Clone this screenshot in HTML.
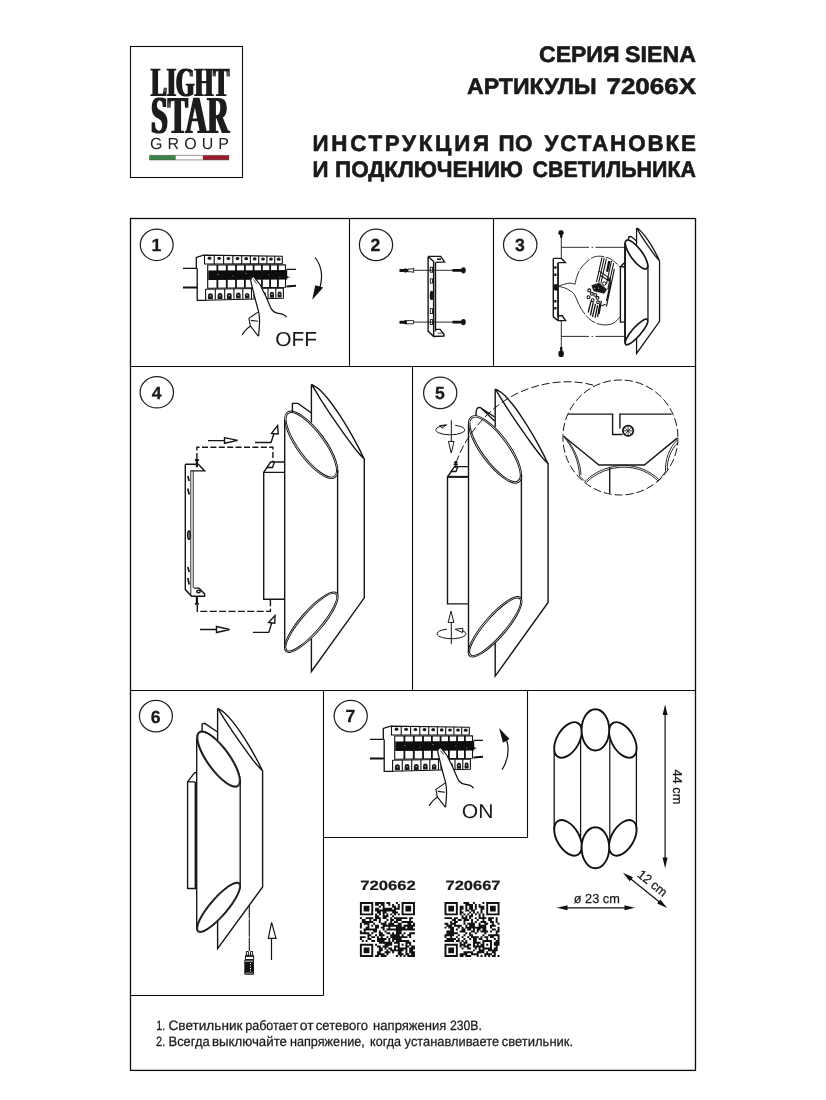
<!DOCTYPE html>
<html lang="ru">
<head>
<meta charset="utf-8">
<title>SIENA 72066X</title>
<style>
html,body{margin:0;padding:0;background:#fff;}
body{width:826px;height:1100px;overflow:hidden;font-family:"Liberation Sans",sans-serif;}
svg{display:block;position:absolute;left:0;top:0;will-change:transform;text-rendering:geometricPrecision;}
.b{font-family:"Liberation Sans",sans-serif;font-weight:bold;fill:#1a1a1a;}
.r{font-family:"Liberation Sans",sans-serif;fill:#1a1a1a;}
.ln{fill:none;stroke:#161616;stroke-width:1.4;}
.th{fill:none;stroke:#222;stroke-width:0.8;}
.tk{fill:none;stroke:#111;stroke-width:1.4;}
</style>
</head>
<body>
<svg width="826" height="1100" viewBox="0 0 826 1100">
<rect x="0" y="0" width="826" height="1100" fill="#fff"/>
<g id="frame" fill="none" stroke="#0c0c0c">
<rect x="130.5" y="218.5" width="565" height="851.9" stroke-width="1.3"/>
<path d="M130.5 366.5H695.5M130.5 690.5H695.5M349.5 218.5V366.5M493.5 218.5V366.5M412.5 366.5V690.5M323.5 690.5V995.5M130.5 995.5H323.5M527.5 690.5V837.5M323.5 837.5H527.5" stroke-width="1.1"/>
</g>
<g id="header" stroke="#1a1a1a" stroke-width="0.6" stroke-linejoin="round" class="b" font-size="22.4">
<text x="539.00" y="62.3" textLength="80.50" lengthAdjust="spacingAndGlyphs">СЕРИЯ</text>
<text x="625.00" y="62.3" textLength="71.00" lengthAdjust="spacingAndGlyphs">SIENA</text>
<text x="467.00" y="94.4" textLength="129.50" lengthAdjust="spacingAndGlyphs">АРТИКУЛЫ</text>
<text x="606.50" y="94.4" textLength="89.50" lengthAdjust="spacingAndGlyphs">72066X</text>
<text x="312.50" y="150.5" textLength="176.50" lengthAdjust="spacing">ИНСТРУКЦИЯ</text>
<text x="498.50" y="150.5" textLength="34.00" lengthAdjust="spacing">ПО</text>
<text x="544.50" y="150.5" textLength="151.50" lengthAdjust="spacing">УСТАНОВКЕ</text>
<text x="312.50" y="177.4" textLength="16.00" lengthAdjust="spacingAndGlyphs">И</text>
<text x="335.00" y="177.4" textLength="188.00" lengthAdjust="spacingAndGlyphs">ПОДКЛЮЧЕНИЮ</text>
<text x="532.50" y="177.4" textLength="163.50" lengthAdjust="spacingAndGlyphs">СВЕТИЛЬНИКА</text>
</g>
<defs>
<filter id="dilx" x="-5%" y="-5%" width="110%" height="110%"><feMorphology operator="dilate" radius="1 0.1"/></filter>
</defs>
<g id="logo">
<rect x="130.5" y="46.5" width="112" height="131" fill="none" stroke="#111" stroke-width="1.1"/>
<g filter="url(#dilx)">
<text x="151" y="95.8" font-family="'Liberation Serif',serif" font-weight="bold" font-size="41.5" fill="#1c1c1c" textLength="78" lengthAdjust="spacingAndGlyphs">LIGHT</text>
<text x="151" y="133.3" font-family="'Liberation Serif',serif" font-weight="bold" font-size="53.5" fill="#1c1c1c" textLength="78" lengthAdjust="spacingAndGlyphs">STAR</text>
</g>
<text x="150" y="148.7" font-family="'Liberation Sans',sans-serif" font-size="16" fill="#222" textLength="79" lengthAdjust="spacing">GROUP</text>
<rect x="149.2" y="155.4" width="26.5" height="4.5" fill="#3a8449"/>
<rect x="202.9" y="155.4" width="26.2" height="4.5" fill="#9e1a2b"/>
<path d="M149.2 155.4H229.1M149.2 159.9H229.1" stroke="#333" stroke-width="0.5" fill="none"/>
</g>
<g id="circles" fill="none" stroke="#222" stroke-width="1.25">
<ellipse cx="156.7" cy="244.8" rx="16.4" ry="15.7"/>
<ellipse cx="376" cy="244.9" rx="16.6" ry="15.7"/>
<ellipse cx="520.2" cy="244.8" rx="16.7" ry="15.7"/>
<ellipse cx="156.8" cy="392.3" rx="16.7" ry="15.7"/>
<ellipse cx="440.2" cy="392.9" rx="16.6" ry="15.8"/>
<ellipse cx="155.9" cy="716.1" rx="16.5" ry="15.8"/>
<ellipse cx="350.7" cy="716.1" rx="16.6" ry="15.8"/>
</g>
<g id="nums" class="b" font-size="17.6" text-anchor="middle" stroke="#1a1a1a" stroke-width="0.3">
<text x="156.3" y="251.2">1</text>
<text x="375.4" y="251.2">2</text>
<text x="519.8" y="251.2">3</text>
<text x="156.6" y="398.8">4</text>
<text x="440" y="399.3">5</text>
<text x="155.6" y="722.5">6</text>
<text x="350.4" y="722.3">7</text>
</g>
<defs>
<g id="breaker">
<path d="M204.5 255.1L203.6 255.1L196.3 257.4V268.4M197.2 268.4V300.3H206" fill="none" stroke="#111" stroke-width="1.3"/>
<path d="M182.9 268.4H197.2M286.5 269.3H296" fill="none" stroke="#111" stroke-width="1.2"/>
<path d="M182.9 287.6H197.2M286.5 286.6L296 285.8" fill="none" stroke="#111" stroke-width="2"/>
<path d="M204.5 255.1L282.3 256.3L282.3 263.8L204.5 264.0Z" fill="#fff" stroke="#111" stroke-width="1.1" stroke-linejoin="round"/>
<path d="M214.2 255.2V264.0M223.6 255.4V264.0M232.8 255.5V263.9M241.7 255.7V263.9M250.4 255.8V263.9M258.7 255.9V263.9M266.9 256.1V263.8M274.7 256.2V263.8" fill="none" stroke="#111" stroke-width="1.1" stroke-linejoin="round"/>
<ellipse cx="209.5" cy="258.2" rx="1.9" ry="1.6" fill="#1c1c1c"/>
<ellipse cx="219.1" cy="258.3" rx="1.9" ry="1.6" fill="#1c1c1c"/>
<ellipse cx="228.4" cy="258.5" rx="1.9" ry="1.6" fill="#1c1c1c"/>
<ellipse cx="237.5" cy="258.6" rx="1.9" ry="1.6" fill="#1c1c1c"/>
<ellipse cx="246.2" cy="258.7" rx="1.9" ry="1.6" fill="#1c1c1c"/>
<ellipse cx="254.7" cy="258.9" rx="1.9" ry="1.6" fill="#1c1c1c"/>
<ellipse cx="263.0" cy="259.0" rx="1.9" ry="1.6" fill="#1c1c1c"/>
<ellipse cx="271.0" cy="259.1" rx="1.9" ry="1.6" fill="#1c1c1c"/>
<ellipse cx="278.7" cy="259.2" rx="1.9" ry="1.6" fill="#1c1c1c"/>
<path d="M207.7 265.0L285.5 264.8L285.5 287.3L207.7 288.3Z" fill="#fff" stroke="#111" stroke-width="1.1" stroke-linejoin="round"/>
<path d="M217.4 265.0V288.1M226.8 264.9V288.0M236.0 264.9V287.9M244.9 264.9V287.8M253.6 264.9V287.7M261.9 264.9V287.6M270.1 264.8V287.5M277.9 264.8V287.4" fill="none" stroke="#111" stroke-width="1.8"/>
<path d="M208.3 270.4L287.2 270.0L287.2 279.5L208.3 280.0Z" fill="#0d0d0d"/>
<path d="M286.8 276L290 277.2L286.8 278Z" fill="#111"/>
<path d="M217 274.5h2M232 276h1.5M245 273.5h2M268 275h1.5M279 277h1.5" stroke="#555" stroke-width="1" fill="none"/>
<path d="M205.6 289.3L283.4 288.0L283.4 298.3L205.6 300.3Z" fill="#fff" stroke="#111" stroke-width="1.1" stroke-linejoin="round"/>
<path d="M215.3 289.1V300.0M224.7 289.0V299.8M233.9 288.8V299.6M242.8 288.7V299.3M251.5 288.5V299.1M259.8 288.4V298.9M268.0 288.2V298.7M275.8 288.1V298.5" fill="none" stroke="#111" stroke-width="1.1" stroke-linejoin="round"/>
<path d="M207.9 299.3V295.7A2.5 2.4 0 0 1 212.9 295.7V299.3Z" fill="#1c1c1c"/>
<rect x="209.8" y="295.4" width="1.4" height="1.1" fill="#bbb"/>
<path d="M217.6 299.1V295.5A2.4 2.4 0 0 1 222.5 295.5V299.1Z" fill="#1c1c1c"/>
<rect x="219.3" y="295.2" width="1.4" height="1.1" fill="#bbb"/>
<path d="M226.9 298.9V295.3A2.4 2.4 0 0 1 231.7 295.3V298.9Z" fill="#1c1c1c"/>
<rect x="228.6" y="295.0" width="1.4" height="1.1" fill="#bbb"/>
<path d="M236.0 298.6V295.0A2.3 2.4 0 0 1 240.7 295.0V298.6Z" fill="#1c1c1c"/>
<rect x="237.7" y="294.7" width="1.4" height="1.1" fill="#bbb"/>
<path d="M244.9 298.4V294.8A2.3 2.4 0 0 1 249.4 294.8V298.4Z" fill="#1c1c1c"/>
<rect x="246.4" y="294.5" width="1.4" height="1.1" fill="#bbb"/>
<path d="M253.4 298.2V294.6A2.2 2.4 0 0 1 257.8 294.6V298.2Z" fill="#1c1c1c"/>
<rect x="254.9" y="294.3" width="1.4" height="1.1" fill="#bbb"/>
<path d="M261.8 298.0V294.4A2.1 2.4 0 0 1 266.0 294.4V298.0Z" fill="#1c1c1c"/>
<rect x="263.2" y="294.1" width="1.4" height="1.1" fill="#bbb"/>
<path d="M269.8 297.8V294.2A2.1 2.4 0 0 1 274.0 294.2V297.8Z" fill="#1c1c1c"/>
<rect x="271.2" y="293.9" width="1.4" height="1.1" fill="#bbb"/>
<path d="M277.6 297.6V294.0A2.0 2.4 0 0 1 281.6 294.0V297.6Z" fill="#1c1c1c"/>
<rect x="278.9" y="293.7" width="1.4" height="1.1" fill="#bbb"/>
<path d="M251.6 277.8C250.6 279 250.6 280 250.9 281.5L252.8 289.4L255.7 301L258.6 311.6C259.6 316 259.7 320 259.5 324L258.6 336.3L264 336L272 310.5L270.7 307.8L265.8 296.2L260 284.5L254.3 277.3C253.3 276.6 252.3 277 251.6 277.8Z" fill="#fff" stroke="none"/>
<path d="M258.6 336.3L259.5 324C259.7 320 259.6 316 258.6 311.6L255.7 301L252.8 289.4L250.9 281.5C250.6 280 250.6 279 251.6 277.8C252.3 277 253.3 276.6 254.3 277.3L260 284.5L265.8 296.2L270.7 307.8C272 310.5 273.5 312 275.5 312.6C278 313.6 280.5 313.5 282.3 314.1C284.3 314.8 285.8 315.8 286.7 317.2" fill="none" stroke="#111" stroke-width="1.2" stroke-linejoin="round"/>
<path d="M258.1 312.1L248.9 318.4L250.3 325.9L258.3 336.1M250.3 326.2C247 328 244.5 331 242.1 334.9M250.8 320.4L258.1 321.3" fill="none" stroke="#111" stroke-width="1.1" stroke-linejoin="round"/>
<path d="M253.5 279.5L256.5 283.5" stroke="#111" stroke-width="0.8" fill="none"/>
</g>
</defs>
<g id="p1">
<use href="#breaker"/>
<path d="M315 257.5C321 265 323 276 320 287" fill="none" stroke="#111" stroke-width="1.2"/>
<path d="M315.3 285.3L323.2 287.6L312.2 299.8Z" fill="#111"/>
<text class="r" x="275.3" y="345.5" font-size="20.2" textLength="41.8" lengthAdjust="spacingAndGlyphs">OFF</text>
</g>
<g id="p7">
<use href="#breaker" transform="translate(187 471)"/>
<path d="M502 769.8C507.5 761 510 751 506.6 740" fill="none" stroke="#111" stroke-width="1.2"/>
<path d="M499.1 728.1L509.5 739L503 742.8Z" fill="#111"/>
<text class="r" x="461.8" y="817.7" font-size="20" textLength="31.6" lengthAdjust="spacingAndGlyphs">ON</text>
</g>
<g id="p2" class="ln" stroke-width="1">
<path d="M428.1 256.4V331.1L433.6 336.5L443.9 336V334.3L440.1 329.4H435.5M428.1 256.4H440.7L444.5 261.9L435.5 262.4M433.6 261V336.5M435.5 262.4V331.6M428.1 256.4L433.6 261.5"/>
<path d="M437 259.2H441" stroke-width="1.6"/>
<path d="M437.5 333.2H442.5" stroke-width="0.8"/>
<g stroke-width="0.9">
<rect x="430.3" y="267.3" width="2.3" height="4.9"/><rect x="430.3" y="278.8" width="2.2" height="4.3"/><rect x="430.3" y="308.7" width="2.2" height="4.9"/><rect x="430.3" y="319.6" width="2.3" height="4.9"/>
</g>
<ellipse cx="431.6" cy="295.4" rx="1.2" ry="4" fill="#111"/>
<path d="M413.4 270.3H452.1M413.4 322.1H452.1" stroke-width="0.9"/>
<!-- plugs -->
<path d="M399.5 270.4H408M399.5 322.2H406" stroke-width="3" stroke="#111"/>
<path d="M405.5 268.5V272.5M405.5 320.2V324.2" stroke-width="2.4" stroke="#111"/>
<path d="M408 269H412L413.6 268.2V272.6L412 271.8H408ZM406.5 320.6H413.6V323.8H406.5Z" stroke-width="0.9"/>
<!-- screws -->
<path d="M452.3 270.3H462M452.3 322.1H462" stroke-width="2.8" stroke="#111"/>
<ellipse cx="463.4" cy="270.3" rx="1.7" ry="2.4" fill="#111"/><ellipse cx="463.4" cy="322.1" rx="1.7" ry="2.4" fill="#111"/>
</g>
<g id="p3" class="ln" stroke-width="1.1">
<g transform="translate(501.2 60.4) scale(0.4347 0.4364)" stroke-width="3"><use href="#tubes"/></g>
<ellipse cx="636.5" cy="254.5" rx="17.4" ry="5.85" transform="rotate(53.7 636.5 254.5)" stroke-width="1.5"/>
<ellipse cx="636.5" cy="331.9" rx="16.5" ry="4.5" transform="rotate(-49 636.5 331.9)" stroke-width="1.5"/>
<path d="M628 240L629.2 236.5L631.5 236.8L636.6 241"/>
<path d="M625.1 243V342" stroke-width="1.7"/>
<!-- back plate -->
<path d="M625 266.8H620.4V322.1H625M620.4 266.8L624.4 262.8"/>
<!-- guide lines -->
<path d="M561.3 233V258.4M561.3 320.5V354M561.3 247.3H589M591.5 247.3H593M595.5 247.3H625M561.3 336.4H589M591.5 336.4H593M595.5 336.4H625" stroke-width="0.9"/>
<g fill="#111" stroke="none"><rect x="558.4" y="230.3" width="5.2" height="4.8" rx="1.9"/><rect x="560.1" y="234.5" width="2.3" height="3.2"/><rect x="558.4" y="350.8" width="5.4" height="6.2" rx="2"/><rect x="560.1" y="347" width="2.3" height="4.2"/></g>
<!-- bracket -->
<path d="M553.3 258.4V316.8L558 320.6H565.6L562.2 315.8H558.4M553.3 258.4H561.5L565.4 262.6H558.4M558.2 262.6V320.6" />
<path d="M557.6 263V317" stroke-width="0.9"/>
<path d="M554.2 267.5H556.5M554.2 274.8H556.5M554.2 301.3H556.5M554.2 308.3H556.5" stroke-width="2.4"/>
<ellipse cx="555.8" cy="287.3" rx="1.6" ry="2.7" fill="#111"/>
<!-- callout bubble -->
<path d="M559.0 286.0C560.0 285.7 563.2 284.5 565.0 284.0C566.8 283.5 568.3 283.1 570.0 283.1C571.7 283.1 574.2 284.0 575.1 284.2" stroke-width="0.9"/>
<path d="M575.1 284.2C575.3 283.4 575.5 281.4 576.2 279.1C576.9 276.8 577.9 273.2 579.5 270.4C581.1 267.6 583.7 264.6 586.0 262.4C588.3 260.2 591.1 258.3 593.3 257.3C595.5 256.3 597.2 256.3 599.1 256.2C601.0 256.1 603.0 256.4 604.9 256.9C606.8 257.4 608.6 257.9 610.7 259.1C612.8 260.3 615.7 262.8 617.3 264.2C618.9 265.6 619.7 266.9 620.2 267.5" stroke-width="0.9" stroke-dasharray="14 1.5"/>
<path d="M559.0 286.4C560.0 286.7 563.2 287.3 565.0 288.0C566.8 288.7 568.4 289.6 570.0 290.7C571.6 291.8 573.2 292.7 574.4 294.4C575.6 296.1 576.2 298.6 577.3 300.9C578.4 303.2 579.4 305.8 580.9 308.2C582.4 310.6 584.2 313.4 586.0 315.5C587.8 317.6 589.6 319.4 591.8 320.9C594.0 322.3 596.7 323.5 599.1 324.2C601.5 324.9 604.0 325.1 606.4 324.9C608.8 324.7 611.3 324.4 613.6 323.1C615.9 321.8 619.1 317.9 620.2 316.9" stroke-width="0.9" stroke-dasharray="40 1.5 12 1.5"/>
<!-- terminal block -->
<g stroke-width="1.1" stroke="#111">
<path d="M602 257.3L596.5 282M604.2 258L598.7 282.7M606.4 258.7L600.9 283.5M611.5 260.9L606.4 284.2M613.6 263.1L607.8 289.3M614.4 268.9L606.4 306.7M610.7 282L606.4 300.9"/>
<path d="M599.1 271.1L610.7 279.1M600.5 275.5L610 281.5M601.3 306L605.6 304.2"/>
<path d="M591.1 300.9L588.2 312.5M593.3 302.4L590.4 315.5M595.5 303.8L592.5 316.9M597.6 305.3L595.1 317.6M599.8 303.8L597.6 316.9M601.3 300.9L599.1 314" stroke-width="1.3"/>
</g>
<path d="M609.3 260.9L607.1 271.8" stroke-width="2.3" stroke="#111"/>
<path d="M608.5 278.5L610.5 281.5" stroke-width="2" stroke="#111"/>
<path d="M591.8 285.6L599.1 283.2L606.6 289.3L604.2 293.2L594 290.9Z" fill="#1a1a1a" stroke-width="0.8"/>
<circle cx="604.2" cy="283.6" r="1.7" fill="#fff" stroke-width="1"/>
<g stroke-width="1.1" fill="#fff" stroke="#111">
<circle cx="589.3" cy="290.4" r="1.5"/><circle cx="588.5" cy="297.3" r="1.5"/><circle cx="591.9" cy="293.8" r="1.4"/><circle cx="595.3" cy="294.9" r="1.4"/><circle cx="597.5" cy="297.8" r="1.4"/><circle cx="592.6" cy="300.2" r="1.4"/><circle cx="598" cy="302.3" r="1.4"/><circle cx="594.3" cy="288.3" r="1.1"/><circle cx="598.5" cy="288" r="1.1"/>
</g>
</g>
<defs>
<g id="tubeB">
<path d="M311.4 422.5V384.4M311.4 638.5V671.5L364.3 597.8V458.3"/>
<path d="M311.6 384.4C312.9 385.2 316.5 386.9 319.4 389.5C322.3 392.1 325.9 396.2 329.1 400.2C332.3 404.2 335.5 408.9 338.7 413.7C341.9 418.5 345.2 423.7 348.4 429.2C351.6 434.7 355.5 441.8 358.1 446.7C360.7 451.6 363.0 456.8 364.0 458.8L364.0 458.8C363.0 457.8 360.7 455.6 358.1 452.5C355.5 449.4 351.6 444.3 348.4 439.9C345.2 435.5 341.9 430.9 338.7 426.3C335.5 421.7 332.3 417.1 329.1 412.3C325.9 407.5 322.3 402.0 319.4 397.3C316.5 392.6 312.9 386.5 311.6 384.4Z"/>
</g>
<g id="tubeF">
<path d="M284.7 420V648M337.6 470V594.5"/>
<g id="ells" stroke-width="0.95">
<ellipse cx="311.3" cy="444.8" rx="40.5" ry="14.2" transform="rotate(53.7 311.3 444.8)"/>
<ellipse cx="311.3" cy="444.8" rx="38.9" ry="12.6" transform="rotate(53.7 311.3 444.8)"/>
<ellipse cx="311.3" cy="622.2" rx="38.8" ry="11.2" transform="rotate(-49 311.3 622.2)"/>
<ellipse cx="311.3" cy="622.2" rx="37.2" ry="9.6" transform="rotate(-49 311.3 622.2)"/>
</g>
</g>
<g id="tubes"><use href="#tubeB"/><use href="#tubeF"/></g>
<g id="lamp">
<use href="#tubes"/>
<path d="M284.7 472.4H263.7V599.3H284.7M263.7 472.4L270.6 462H284.7"/>
</g>
</defs>
<g id="p4" class="ln">
<use href="#lamp"/>
<!-- mount tab -->
<path d="M292.4 412V403.4H298L311.4 413"/>
<path d="M267 467.5H272.5L274.5 462"/>
<!-- dashed guides -->
<path d="M196.9 459V447.3H272.9V462" stroke-dasharray="6 2.4"/>
<path d="M197.3 605V611.4H270.4V599.5" stroke-dasharray="7 2.4"/>
<!-- arrows -->
<path d="M208 440.6H224.5M224.5 437.6L237.6 440.4L224.5 443.3Z"/>
<path d="M255 442.5H271L273.9 433.8M271.5 433.4L277.6 425.6L278.2 434Z"/>
<path d="M200 629.5H216.5M216.5 626.5L229.6 629.5L216.5 632.5Z"/>
<path d="M252.8 632.4H268.8L271.7 623M268.6 622.5L275 615.5L274.8 623.2Z"/>
<!-- bracket -->
<path d="M185.3 464.3V589.6L191.6 596.2H204.6V593.9L199 588.1H194M185.3 464.3H198.3L204.6 470.9H190.5"/>
<path d="M190.8 470.9V596M193.2 470.9V588.1" stroke-width="0.9"/>
<path d="M196.9 459.5V467.2M196.9 596.5V604" stroke-width="2.2"/>
<path d="M194.9 460H198.9M194.9 603.8H198.9" stroke-width="1.8"/>
<ellipse cx="198.5" cy="591.5" rx="1.8" ry="1.2"/>
<g stroke-width="1.7">
<path d="M187.8 476L189.2 481M187.8 488.5L189.2 494.5M187.8 567L189.2 572M187.8 578L189.2 584.5"/>
<ellipse cx="189" cy="535.2" rx="1.2" ry="4"/>
</g>
</g>
<g id="p5" class="ln">
<use href="#lamp" transform="translate(183.8 4.6)"/>
<!-- curved tab -->
<path d="M476 416C476 409 477 407 480 407.5L494.6 417M481 408L494.6 421"/>
<!-- screw -->
<path d="M454 462.5H457.5M453.6 464.5H457.8M455.7 461V468" stroke-width="1.7"/>
<path d="M450.5 471.5H456L458 466"/>
<!-- rotation icons -->
<path d="M455.2 425.3A14.4 4.9 0 1 1 446.2 425.2M446.5 424.8L439.6 425.7L442 428.2Z" stroke-width="1"/>
<path d="M451.3 420.3V441.4M448.4 441.4H454.1L451.2 453Z" stroke-width="1"/>
<path d="M446.8 629.2A14.4 4.9 0 1 0 462.3 630.6M455.2 629.3L462.8 628.2L462.5 632.5Z" stroke-width="1"/>
<path d="M451.3 644.2V622.4M448.1 622.4H453.9L451 611.1Z" stroke-width="1"/>
<path d="M447.3 476.7H468.6" stroke-width="1.7"/>
<!-- dashed leader -->
<path d="M456 463C465 436 488 408 516 394S575 379 596 386" stroke-dasharray="8 3" stroke-width="1"/>
<!-- detail circle -->
<circle cx="620.4" cy="437.5" r="57.5" stroke-dasharray="8 3" stroke-width="1"/>
<path d="M568.2 414.1H612.6V434.5H622.5M619.9 428.5V414.1H671.7"/>
<circle cx="628.1" cy="430.8" r="5.2" stroke-width="1.8"/>
<path d="M628.1 426.5V435M624 430.8H632.3M625.3 428L631 433.7M631 428L625.3 433.7" stroke-width="0.8"/>
<path d="M563.6 436.3L599 465H644.4L677.1 438.1"/>
<path d="M609.7 467V493.5"/>
<g stroke-width="0.9">
<path d="M585 481.5C596 470 612 465.5 624 465.5C638 465.5 650 471 659.5 480"/>
<path d="M586.3 482.5C597 471.7 612 467.2 624 467.2C638 467.2 649.5 472.5 658.3 481.2"/>
<path d="M563.5 436.5C573 447 579 462 579.5 476L585 481.5"/>
<path d="M565 437C574.5 448 580.5 462 581 475"/>
<path d="M677.3 440C669 448 665 460 665.5 471.5L659.5 480"/>
<path d="M678 442.5C670.5 450 667 460 667.3 470"/>
</g>
</g>
<g id="p6" class="ln">
<g transform="translate(-47.3 386.8) scale(0.8507 0.8366)" stroke-width="1.65"><use href="#tubeB"/></g>
<g transform="translate(-37.4 387.5) scale(0.8223 0.8355)" stroke-width="1.65"><use href="#tubeF"/></g>
<ellipse cx="218.6" cy="759.1" rx="33.2" ry="11.1" transform="rotate(53.9 218.6 759.1)" stroke-width="1.2"/>
<ellipse cx="218.6" cy="907.3" rx="31.7" ry="8.6" transform="rotate(-49.3 218.6 907.3)" stroke-width="1.2"/>
<path d="M202.1 731V724L204.7 723.3L217.5 732"/>
<!-- slab -->
<path d="M195.3 781.9H187.6V888.5H196.7M187.6 781.9L194.6 772.7H196.7M195.3 781.9V888.5"/>
<!-- bulb -->
<path d="M249.3 905V951" stroke-dasharray="13.5 0.8 17.5 0.8 20" stroke-width="1.1"/>
<path d="M246.4 955.3V951.5H248.4V955.3M250.5 955.3V951.5H252.6V955.3M245.5 955.3H253.6V959.6H245.5Z" stroke-width="1"/>
<path d="M245.5 956.3H253.6" stroke-width="1.2"/>
<rect x="244.3" y="959.4" width="9.7" height="15.3" rx="1" fill="#111" stroke="none"/>
<path d="M250.5 963V973" stroke="#fff" stroke-width="1" stroke-dasharray="1.1 1.4"/>
<path d="M245 961.2H253.3" stroke="#fff" stroke-width="0.8"/>
<path d="M245.3 973.2H253" stroke="#fff" stroke-width="0.6"/>
<!-- arrow -->
<path d="M271.5 959.9V938.3M268.3 938.3H276L271.6 922.4Z" stroke-width="1.2"/>
</g>
<g id="dims">
<g fill="none" stroke="#111" stroke-width="1.9">
<path d="M554.2 750.5V829M636.4 750.5V829" stroke-width="1.3"/>
<path d="M580.6 740V838M609.8 740V838" stroke-width="1.2"/>
<ellipse cx="568" cy="740" rx="19.6" ry="11.1" transform="rotate(-59.5 568 740)"/>
<ellipse cx="622.8" cy="740" rx="19.6" ry="11.1" transform="rotate(59.5 622.8 740)"/>
<ellipse cx="568" cy="837.9" rx="19.6" ry="11.1" transform="rotate(59.5 568 837.9)"/>
<ellipse cx="622.8" cy="837.9" rx="19.6" ry="11.1" transform="rotate(-59.5 622.8 837.9)"/>
<ellipse cx="595.4" cy="729.9" rx="13.8" ry="20.6" fill="#fff"/>
<ellipse cx="595.4" cy="847.7" rx="13.8" ry="20.5" fill="#fff"/>
</g>
<g stroke="#111" stroke-width="1.2" fill="#111">
<path d="M665.1 712V860"/>
<path d="M665.1 704.4L667.6 715H662.6ZM665.1 868.2L667.6 857.5H662.6Z" stroke="none"/>
<path d="M565 907.8H627"/>
<path d="M556.9 907.8L567.5 905.3V910.3ZM635 907.8L624.5 905.3V910.3Z" stroke="none"/>
<path d="M629 877.5L661 903.3"/>
<path d="M623 872.7L633 877.2L629.7 881.2ZM667.1 908.1L657.2 903.6L660.4 899.6Z" stroke="none"/>
</g>
<g class="r" font-size="13" text-anchor="middle" stroke="#1a1a1a" stroke-width="0.25">
<text transform="translate(672.6 786.9) rotate(90)" textLength="35" lengthAdjust="spacingAndGlyphs">44 cm</text>
<text x="596.8" y="902.8" textLength="46" lengthAdjust="spacingAndGlyphs">ø 23 cm</text>
<text transform="translate(645 890.4) rotate(38.8)" x="1.3" y="-5.9" textLength="34" lengthAdjust="spacingAndGlyphs">12 cm</text>
</g>
</g>
<g id="qr">
<g class="b" font-size="13.4" stroke="#1a1a1a" stroke-width="0.2">
<text x="360.2" y="889.6" textLength="55.6" lengthAdjust="spacingAndGlyphs">720662</text>
<text x="445.5" y="889.6" textLength="55" lengthAdjust="spacingAndGlyphs">720667</text>
</g>
<path d="M359.90 902.00h13.33v1.95h-13.33zM375.07 902.00h9.53v1.95h-9.53zM386.45 902.00h3.84v1.95h-3.84zM395.93 902.00h1.95v1.95h-1.95zM401.62 902.00h13.33v1.95h-13.33zM359.90 903.90h1.95v1.95h-1.95zM371.28 903.90h1.95v1.95h-1.95zM375.07 903.90h3.84v1.95h-3.84zM380.76 903.90h3.84v1.95h-3.84zM388.35 903.90h1.95v1.95h-1.95zM392.14 903.90h1.95v1.95h-1.95zM397.83 903.90h1.95v1.95h-1.95zM401.62 903.90h1.95v1.95h-1.95zM413.00 903.90h1.95v1.95h-1.95zM359.90 905.79h1.95v1.95h-1.95zM363.69 905.79h5.74v1.95h-5.74zM371.28 905.79h1.95v1.95h-1.95zM378.87 905.79h1.95v1.95h-1.95zM382.66 905.79h1.95v1.95h-1.95zM392.14 905.79h3.84v1.95h-3.84zM397.83 905.79h1.95v1.95h-1.95zM401.62 905.79h1.95v1.95h-1.95zM405.42 905.79h5.74v1.95h-5.74zM413.00 905.79h1.95v1.95h-1.95zM359.90 907.69h1.95v1.95h-1.95zM363.69 907.69h5.74v1.95h-5.74zM371.28 907.69h1.95v1.95h-1.95zM375.07 907.69h3.84v1.95h-3.84zM382.66 907.69h9.53v1.95h-9.53zM394.04 907.69h5.74v1.95h-5.74zM401.62 907.69h1.95v1.95h-1.95zM405.42 907.69h5.74v1.95h-5.74zM413.00 907.69h1.95v1.95h-1.95zM359.90 909.59h1.95v1.95h-1.95zM363.69 909.59h5.74v1.95h-5.74zM371.28 909.59h1.95v1.95h-1.95zM375.07 909.59h20.91v1.95h-20.91zM401.62 909.59h1.95v1.95h-1.95zM405.42 909.59h5.74v1.95h-5.74zM413.00 909.59h1.95v1.95h-1.95zM359.90 911.48h1.95v1.95h-1.95zM371.28 911.48h1.95v1.95h-1.95zM376.97 911.48h3.84v1.95h-3.84zM382.66 911.48h3.84v1.95h-3.84zM392.14 911.48h5.74v1.95h-5.74zM401.62 911.48h1.95v1.95h-1.95zM413.00 911.48h1.95v1.95h-1.95zM359.90 913.38h13.33v1.95h-13.33zM375.07 913.38h1.95v1.95h-1.95zM378.87 913.38h1.95v1.95h-1.95zM382.66 913.38h1.95v1.95h-1.95zM386.45 913.38h1.95v1.95h-1.95zM390.24 913.38h1.95v1.95h-1.95zM394.04 913.38h1.95v1.95h-1.95zM397.83 913.38h1.95v1.95h-1.95zM401.62 913.38h13.33v1.95h-13.33zM375.07 915.28h3.84v1.95h-3.84zM382.66 915.28h5.74v1.95h-5.74zM392.14 915.28h1.95v1.95h-1.95zM359.90 917.17h1.95v1.95h-1.95zM365.59 917.17h7.64v1.95h-7.64zM375.07 917.17h5.74v1.95h-5.74zM382.66 917.17h3.84v1.95h-3.84zM390.24 917.17h1.95v1.95h-1.95zM394.04 917.17h13.33v1.95h-13.33zM409.21 917.17h3.84v1.95h-3.84zM361.80 919.07h3.84v1.95h-3.84zM369.38 919.07h1.95v1.95h-1.95zM373.18 919.07h3.84v1.95h-3.84zM378.87 919.07h1.95v1.95h-1.95zM386.45 919.07h1.95v1.95h-1.95zM390.24 919.07h3.84v1.95h-3.84zM395.93 919.07h5.74v1.95h-5.74zM409.21 919.07h1.95v1.95h-1.95zM361.80 920.97h11.43v1.95h-11.43zM378.87 920.97h1.95v1.95h-1.95zM384.56 920.97h1.95v1.95h-1.95zM390.24 920.97h1.95v1.95h-1.95zM394.04 920.97h3.84v1.95h-3.84zM401.62 920.97h11.43v1.95h-11.43zM359.90 922.86h1.95v1.95h-1.95zM363.69 922.86h5.74v1.95h-5.74zM373.18 922.86h1.95v1.95h-1.95zM380.76 922.86h5.74v1.95h-5.74zM388.35 922.86h5.74v1.95h-5.74zM397.83 922.86h3.84v1.95h-3.84zM407.31 922.86h3.84v1.95h-3.84zM413.00 922.86h1.95v1.95h-1.95zM359.90 924.76h1.95v1.95h-1.95zM367.49 924.76h1.95v1.95h-1.95zM371.28 924.76h1.95v1.95h-1.95zM375.07 924.76h3.84v1.95h-3.84zM382.66 924.76h19.02v1.95h-19.02zM403.52 924.76h11.43v1.95h-11.43zM359.90 926.66h1.95v1.95h-1.95zM365.59 926.66h3.84v1.95h-3.84zM375.07 926.66h3.84v1.95h-3.84zM380.76 926.66h3.84v1.95h-3.84zM388.35 926.66h1.95v1.95h-1.95zM395.93 926.66h9.53v1.95h-9.53zM407.31 926.66h5.74v1.95h-5.74zM363.69 928.55h13.33v1.95h-13.33zM382.66 928.55h1.95v1.95h-1.95zM386.45 928.55h28.50v1.95h-28.50zM359.90 930.45h1.95v1.95h-1.95zM363.69 930.45h1.95v1.95h-1.95zM373.18 930.45h3.84v1.95h-3.84zM378.87 930.45h1.95v1.95h-1.95zM384.56 930.45h1.95v1.95h-1.95zM395.93 930.45h5.74v1.95h-5.74zM359.90 932.34h9.53v1.95h-9.53zM371.28 932.34h1.95v1.95h-1.95zM378.87 932.34h3.84v1.95h-3.84zM386.45 932.34h3.84v1.95h-3.84zM392.14 932.34h1.95v1.95h-1.95zM395.93 932.34h5.74v1.95h-5.74zM403.52 932.34h1.95v1.95h-1.95zM409.21 932.34h5.74v1.95h-5.74zM367.49 934.24h3.84v1.95h-3.84zM375.07 934.24h1.95v1.95h-1.95zM378.87 934.24h5.74v1.95h-5.74zM390.24 934.24h9.53v1.95h-9.53zM401.62 934.24h1.95v1.95h-1.95zM407.31 934.24h3.84v1.95h-3.84zM359.90 936.14h5.74v1.95h-5.74zM367.49 936.14h1.95v1.95h-1.95zM371.28 936.14h3.84v1.95h-3.84zM376.97 936.14h1.95v1.95h-1.95zM380.76 936.14h1.95v1.95h-1.95zM386.45 936.14h1.95v1.95h-1.95zM390.24 936.14h17.12v1.95h-17.12zM409.21 936.14h1.95v1.95h-1.95zM359.90 938.03h1.95v1.95h-1.95zM367.49 938.03h3.84v1.95h-3.84zM376.97 938.03h9.53v1.95h-9.53zM388.35 938.03h1.95v1.95h-1.95zM392.14 938.03h9.53v1.95h-9.53zM361.80 939.93h1.95v1.95h-1.95zM365.59 939.93h1.95v1.95h-1.95zM371.28 939.93h3.84v1.95h-3.84zM376.97 939.93h7.64v1.95h-7.64zM388.35 939.93h1.95v1.95h-1.95zM392.14 939.93h1.95v1.95h-1.95zM395.93 939.93h13.33v1.95h-13.33zM413.00 939.93h1.95v1.95h-1.95zM378.87 941.83h13.33v1.95h-13.33zM394.04 941.83h5.74v1.95h-5.74zM405.42 941.83h5.74v1.95h-5.74zM359.90 943.72h13.33v1.95h-13.33zM375.07 943.72h1.95v1.95h-1.95zM384.56 943.72h7.64v1.95h-7.64zM397.83 943.72h1.95v1.95h-1.95zM401.62 943.72h1.95v1.95h-1.95zM405.42 943.72h1.95v1.95h-1.95zM409.21 943.72h1.95v1.95h-1.95zM359.90 945.62h1.95v1.95h-1.95zM371.28 945.62h1.95v1.95h-1.95zM376.97 945.62h3.84v1.95h-3.84zM382.66 945.62h5.74v1.95h-5.74zM394.04 945.62h5.74v1.95h-5.74zM405.42 945.62h3.84v1.95h-3.84zM411.11 945.62h3.84v1.95h-3.84zM359.90 947.52h1.95v1.95h-1.95zM363.69 947.52h5.74v1.95h-5.74zM371.28 947.52h1.95v1.95h-1.95zM378.87 947.52h3.84v1.95h-3.84zM384.56 947.52h1.95v1.95h-1.95zM388.35 947.52h3.84v1.95h-3.84zM394.04 947.52h1.95v1.95h-1.95zM397.83 947.52h9.53v1.95h-9.53zM409.21 947.52h5.74v1.95h-5.74zM359.90 949.41h1.95v1.95h-1.95zM363.69 949.41h5.74v1.95h-5.74zM371.28 949.41h1.95v1.95h-1.95zM378.87 949.41h3.84v1.95h-3.84zM386.45 949.41h1.95v1.95h-1.95zM390.24 949.41h13.33v1.95h-13.33zM405.42 949.41h1.95v1.95h-1.95zM409.21 949.41h3.84v1.95h-3.84zM359.90 951.31h1.95v1.95h-1.95zM363.69 951.31h5.74v1.95h-5.74zM371.28 951.31h1.95v1.95h-1.95zM376.97 951.31h3.84v1.95h-3.84zM384.56 951.31h5.74v1.95h-5.74zM392.14 951.31h1.95v1.95h-1.95zM397.83 951.31h3.84v1.95h-3.84zM405.42 951.31h1.95v1.95h-1.95zM409.21 951.31h5.74v1.95h-5.74zM359.90 953.21h1.95v1.95h-1.95zM371.28 953.21h1.95v1.95h-1.95zM376.97 953.21h7.64v1.95h-7.64zM386.45 953.21h1.95v1.95h-1.95zM397.83 953.21h5.74v1.95h-5.74zM405.42 953.21h3.84v1.95h-3.84zM411.11 953.21h3.84v1.95h-3.84zM359.90 955.10h13.33v1.95h-13.33zM375.07 955.10h3.84v1.95h-3.84zM380.76 955.10h5.74v1.95h-5.74zM395.93 955.10h1.95v1.95h-1.95zM399.73 955.10h1.95v1.95h-1.95zM403.52 955.10h1.95v1.95h-1.95zM407.31 955.10h7.64v1.95h-7.64z" fill="#111"/>
<path d="M444.50 902.00h13.33v1.95h-13.33zM463.47 902.00h5.74v1.95h-5.74zM472.95 902.00h1.95v1.95h-1.95zM482.43 902.00h1.95v1.95h-1.95zM486.22 902.00h13.33v1.95h-13.33zM444.50 903.90h1.95v1.95h-1.95zM455.88 903.90h1.95v1.95h-1.95zM465.36 903.90h7.64v1.95h-7.64zM474.84 903.90h1.95v1.95h-1.95zM478.64 903.90h1.95v1.95h-1.95zM486.22 903.90h1.95v1.95h-1.95zM497.60 903.90h1.95v1.95h-1.95zM444.50 905.79h1.95v1.95h-1.95zM448.29 905.79h5.74v1.95h-5.74zM455.88 905.79h1.95v1.95h-1.95zM459.67 905.79h3.84v1.95h-3.84zM465.36 905.79h1.95v1.95h-1.95zM469.16 905.79h3.84v1.95h-3.84zM474.84 905.79h1.95v1.95h-1.95zM478.64 905.79h5.74v1.95h-5.74zM486.22 905.79h1.95v1.95h-1.95zM490.02 905.79h5.74v1.95h-5.74zM497.60 905.79h1.95v1.95h-1.95zM444.50 907.69h1.95v1.95h-1.95zM448.29 907.69h5.74v1.95h-5.74zM455.88 907.69h1.95v1.95h-1.95zM459.67 907.69h3.84v1.95h-3.84zM465.36 907.69h1.95v1.95h-1.95zM469.16 907.69h3.84v1.95h-3.84zM474.84 907.69h1.95v1.95h-1.95zM480.53 907.69h3.84v1.95h-3.84zM486.22 907.69h1.95v1.95h-1.95zM490.02 907.69h5.74v1.95h-5.74zM497.60 907.69h1.95v1.95h-1.95zM444.50 909.59h1.95v1.95h-1.95zM448.29 909.59h5.74v1.95h-5.74zM455.88 909.59h1.95v1.95h-1.95zM459.67 909.59h1.95v1.95h-1.95zM465.36 909.59h3.84v1.95h-3.84zM471.05 909.59h3.84v1.95h-3.84zM480.53 909.59h1.95v1.95h-1.95zM486.22 909.59h1.95v1.95h-1.95zM490.02 909.59h5.74v1.95h-5.74zM497.60 909.59h1.95v1.95h-1.95zM444.50 911.48h1.95v1.95h-1.95zM455.88 911.48h1.95v1.95h-1.95zM459.67 911.48h3.84v1.95h-3.84zM469.16 911.48h1.95v1.95h-1.95zM472.95 911.48h1.95v1.95h-1.95zM476.74 911.48h1.95v1.95h-1.95zM480.53 911.48h1.95v1.95h-1.95zM486.22 911.48h1.95v1.95h-1.95zM497.60 911.48h1.95v1.95h-1.95zM444.50 913.38h13.33v1.95h-13.33zM459.67 913.38h1.95v1.95h-1.95zM463.47 913.38h1.95v1.95h-1.95zM467.26 913.38h1.95v1.95h-1.95zM471.05 913.38h1.95v1.95h-1.95zM474.84 913.38h1.95v1.95h-1.95zM478.64 913.38h1.95v1.95h-1.95zM482.43 913.38h1.95v1.95h-1.95zM486.22 913.38h13.33v1.95h-13.33zM461.57 915.28h1.95v1.95h-1.95zM465.36 915.28h1.95v1.95h-1.95zM469.16 915.28h3.84v1.95h-3.84zM478.64 915.28h1.95v1.95h-1.95zM482.43 915.28h1.95v1.95h-1.95zM444.50 917.17h7.64v1.95h-7.64zM453.98 917.17h3.84v1.95h-3.84zM461.57 917.17h5.74v1.95h-5.74zM469.16 917.17h1.95v1.95h-1.95zM474.84 917.17h1.95v1.95h-1.95zM478.64 917.17h7.64v1.95h-7.64zM488.12 917.17h5.74v1.95h-5.74zM495.71 917.17h1.95v1.95h-1.95zM452.09 919.07h3.84v1.95h-3.84zM457.78 919.07h3.84v1.95h-3.84zM463.47 919.07h5.74v1.95h-5.74zM471.05 919.07h1.95v1.95h-1.95zM476.74 919.07h1.95v1.95h-1.95zM482.43 919.07h1.95v1.95h-1.95zM488.12 919.07h3.84v1.95h-3.84zM495.71 919.07h1.95v1.95h-1.95zM450.19 920.97h1.95v1.95h-1.95zM453.98 920.97h3.84v1.95h-3.84zM463.47 920.97h1.95v1.95h-1.95zM471.05 920.97h1.95v1.95h-1.95zM474.84 920.97h1.95v1.95h-1.95zM480.53 920.97h5.74v1.95h-5.74zM490.02 920.97h3.84v1.95h-3.84zM495.71 920.97h1.95v1.95h-1.95zM444.50 922.86h3.84v1.95h-3.84zM450.19 922.86h5.74v1.95h-5.74zM463.47 922.86h1.95v1.95h-1.95zM467.26 922.86h7.64v1.95h-7.64zM478.64 922.86h1.95v1.95h-1.95zM484.33 922.86h3.84v1.95h-3.84zM491.91 922.86h1.95v1.95h-1.95zM497.60 922.86h1.95v1.95h-1.95zM446.40 924.76h5.74v1.95h-5.74zM453.98 924.76h7.64v1.95h-7.64zM465.36 924.76h1.95v1.95h-1.95zM469.16 924.76h5.74v1.95h-5.74zM478.64 924.76h7.64v1.95h-7.64zM490.02 924.76h5.74v1.95h-5.74zM444.50 926.66h1.95v1.95h-1.95zM448.29 926.66h5.74v1.95h-5.74zM457.78 926.66h1.95v1.95h-1.95zM461.57 926.66h1.95v1.95h-1.95zM465.36 926.66h20.91v1.95h-20.91zM490.02 926.66h1.95v1.95h-1.95zM497.60 926.66h1.95v1.95h-1.95zM450.19 928.55h3.84v1.95h-3.84zM455.88 928.55h1.95v1.95h-1.95zM461.57 928.55h3.84v1.95h-3.84zM467.26 928.55h3.84v1.95h-3.84zM472.95 928.55h1.95v1.95h-1.95zM476.74 928.55h3.84v1.95h-3.84zM482.43 928.55h3.84v1.95h-3.84zM491.91 928.55h3.84v1.95h-3.84zM497.60 928.55h1.95v1.95h-1.95zM446.40 930.45h7.64v1.95h-7.64zM459.67 930.45h5.74v1.95h-5.74zM471.05 930.45h3.84v1.95h-3.84zM476.74 930.45h1.95v1.95h-1.95zM480.53 930.45h7.64v1.95h-7.64zM490.02 930.45h1.95v1.95h-1.95zM495.71 930.45h3.84v1.95h-3.84zM446.40 932.34h11.43v1.95h-11.43zM465.36 932.34h1.95v1.95h-1.95zM469.16 932.34h1.95v1.95h-1.95zM474.84 932.34h1.95v1.95h-1.95zM484.33 932.34h1.95v1.95h-1.95zM495.71 932.34h1.95v1.95h-1.95zM444.50 934.24h9.53v1.95h-9.53zM457.78 934.24h1.95v1.95h-1.95zM463.47 934.24h1.95v1.95h-1.95zM469.16 934.24h3.84v1.95h-3.84zM482.43 934.24h1.95v1.95h-1.95zM488.12 934.24h11.43v1.95h-11.43zM444.50 936.14h1.95v1.95h-1.95zM450.19 936.14h1.95v1.95h-1.95zM455.88 936.14h1.95v1.95h-1.95zM461.57 936.14h1.95v1.95h-1.95zM467.26 936.14h1.95v1.95h-1.95zM471.05 936.14h7.64v1.95h-7.64zM480.53 936.14h1.95v1.95h-1.95zM484.33 936.14h3.84v1.95h-3.84zM490.02 936.14h3.84v1.95h-3.84zM497.60 936.14h1.95v1.95h-1.95zM446.40 938.03h9.53v1.95h-9.53zM457.78 938.03h1.95v1.95h-1.95zM463.47 938.03h1.95v1.95h-1.95zM469.16 938.03h1.95v1.95h-1.95zM472.95 938.03h3.84v1.95h-3.84zM478.64 938.03h3.84v1.95h-3.84zM486.22 938.03h1.95v1.95h-1.95zM493.81 938.03h1.95v1.95h-1.95zM497.60 938.03h1.95v1.95h-1.95zM444.50 939.93h9.53v1.95h-9.53zM455.88 939.93h3.84v1.95h-3.84zM461.57 939.93h1.95v1.95h-1.95zM465.36 939.93h1.95v1.95h-1.95zM472.95 939.93h3.84v1.95h-3.84zM482.43 939.93h9.53v1.95h-9.53zM495.71 939.93h3.84v1.95h-3.84zM459.67 941.83h1.95v1.95h-1.95zM463.47 941.83h3.84v1.95h-3.84zM472.95 941.83h7.64v1.95h-7.64zM482.43 941.83h1.95v1.95h-1.95zM490.02 941.83h1.95v1.95h-1.95zM493.81 941.83h5.74v1.95h-5.74zM444.50 943.72h13.33v1.95h-13.33zM459.67 943.72h5.74v1.95h-5.74zM467.26 943.72h3.84v1.95h-3.84zM472.95 943.72h1.95v1.95h-1.95zM476.74 943.72h1.95v1.95h-1.95zM480.53 943.72h3.84v1.95h-3.84zM486.22 943.72h1.95v1.95h-1.95zM490.02 943.72h1.95v1.95h-1.95zM493.81 943.72h5.74v1.95h-5.74zM444.50 945.62h1.95v1.95h-1.95zM455.88 945.62h1.95v1.95h-1.95zM459.67 945.62h1.95v1.95h-1.95zM463.47 945.62h5.74v1.95h-5.74zM472.95 945.62h11.43v1.95h-11.43zM490.02 945.62h1.95v1.95h-1.95zM495.71 945.62h1.95v1.95h-1.95zM444.50 947.52h1.95v1.95h-1.95zM448.29 947.52h5.74v1.95h-5.74zM455.88 947.52h1.95v1.95h-1.95zM461.57 947.52h1.95v1.95h-1.95zM467.26 947.52h3.84v1.95h-3.84zM474.84 947.52h1.95v1.95h-1.95zM478.64 947.52h1.95v1.95h-1.95zM482.43 947.52h9.53v1.95h-9.53zM493.81 947.52h3.84v1.95h-3.84zM444.50 949.41h1.95v1.95h-1.95zM448.29 949.41h5.74v1.95h-5.74zM455.88 949.41h1.95v1.95h-1.95zM472.95 949.41h1.95v1.95h-1.95zM478.64 949.41h5.74v1.95h-5.74zM488.12 949.41h9.53v1.95h-9.53zM444.50 951.31h1.95v1.95h-1.95zM448.29 951.31h5.74v1.95h-5.74zM455.88 951.31h1.95v1.95h-1.95zM463.47 951.31h9.53v1.95h-9.53zM476.74 951.31h7.64v1.95h-7.64zM486.22 951.31h1.95v1.95h-1.95zM491.91 951.31h3.84v1.95h-3.84zM444.50 953.21h1.95v1.95h-1.95zM455.88 953.21h1.95v1.95h-1.95zM459.67 953.21h7.64v1.95h-7.64zM471.05 953.21h7.64v1.95h-7.64zM484.33 953.21h7.64v1.95h-7.64zM493.81 953.21h1.95v1.95h-1.95zM444.50 955.10h13.33v1.95h-13.33zM459.67 955.10h3.84v1.95h-3.84zM465.36 955.10h5.74v1.95h-5.74zM476.74 955.10h1.95v1.95h-1.95zM480.53 955.10h1.95v1.95h-1.95zM484.33 955.10h1.95v1.95h-1.95zM488.12 955.10h1.95v1.95h-1.95zM491.91 955.10h3.84v1.95h-3.84zM497.60 955.10h1.95v1.95h-1.95z" fill="#111"/>
</g>
<g id="footer" class="r" font-size="13.5" stroke="#1a1a1a" stroke-width="0.25">
<text x="156.3" y="1029.9" textLength="8.9" lengthAdjust="spacingAndGlyphs">1.</text>
<text x="168.5" y="1029.9" textLength="74.0" lengthAdjust="spacingAndGlyphs">Светильник</text>
<text x="245.2" y="1029.9" textLength="52.7" lengthAdjust="spacingAndGlyphs">работает</text>
<text x="299.8" y="1029.9" textLength="13.8" lengthAdjust="spacingAndGlyphs">от</text>
<text x="315.8" y="1029.9" textLength="52.3" lengthAdjust="spacingAndGlyphs">сетевого</text>
<text x="373.1" y="1029.9" textLength="73.3" lengthAdjust="spacingAndGlyphs">напряжения</text>
<text x="449.9" y="1029.9" textLength="31.9" lengthAdjust="spacingAndGlyphs">230В.</text>
<text x="156.0" y="1046.4" textLength="9.2" lengthAdjust="spacingAndGlyphs">2.</text>
<text x="168.5" y="1046.4" textLength="41.2" lengthAdjust="spacingAndGlyphs">Всегда</text>
<text x="211.9" y="1046.4" textLength="75.1" lengthAdjust="spacingAndGlyphs">выключайте</text>
<text x="289.9" y="1046.4" textLength="74.9" lengthAdjust="spacingAndGlyphs">напряжение,</text>
<text x="370.0" y="1046.4" textLength="31.1" lengthAdjust="spacingAndGlyphs">когда</text>
<text x="404.6" y="1046.4" textLength="94.5" lengthAdjust="spacingAndGlyphs">устанавливаете</text>
<text x="501.8" y="1046.4" textLength="71.3" lengthAdjust="spacingAndGlyphs">светильник.</text>
</g>
</svg>
</body>
</html>
